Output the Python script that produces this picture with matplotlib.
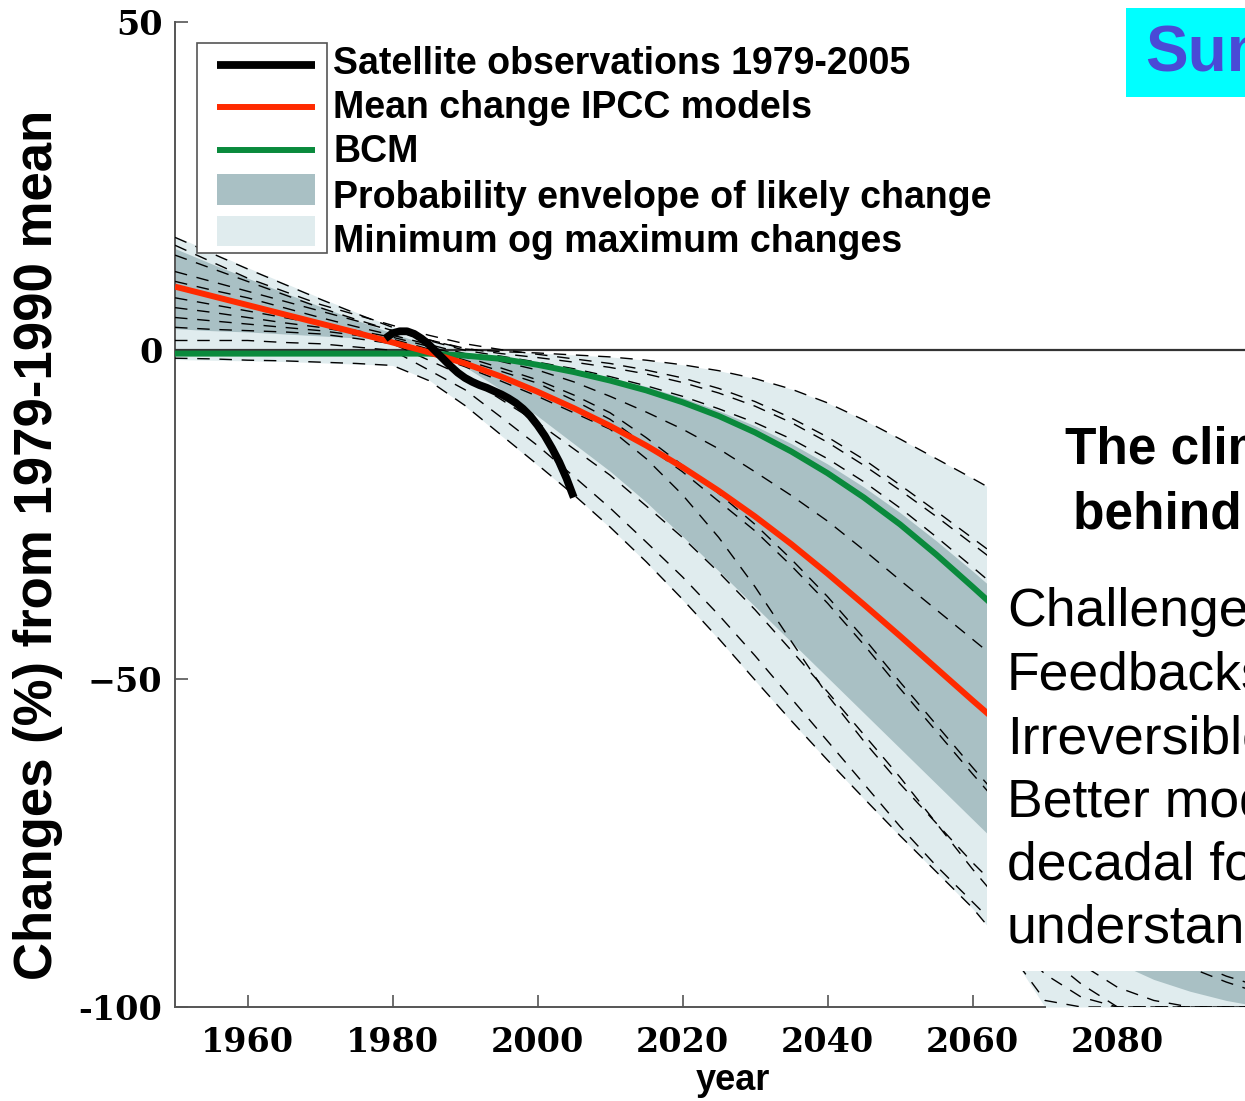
import numpy as np
import matplotlib
matplotlib.use("Agg")
import matplotlib.pyplot as plt
from matplotlib.patches import Rectangle
from matplotlib.lines import Line2D

# ---- data ----
years = list(range(1950, 2101, 5))
mean_ipcc = [9.7, 8.3, 6.9, 5.5, 4.1, 2.7, 1.2, -0.3, -2.0, -4.0, -6.3, -8.8, -11.5, -14.5,
             -17.8, -21.4, -25.3, -29.5, -34.0, -38.7, -43.5, -48.4, -53.3, -58.1, -62.7,
             -67.0, -71.0, -74.7, -78.1, -81.3, -84.3]
bcm = [-0.5, -0.5, -0.5, -0.5, -0.5, -0.5, -0.5, -0.5, -0.8, -1.3, -2.2, -3.3, -4.6, -6.1,
       -7.9, -10.0, -12.5, -15.4, -18.7, -22.4, -26.5, -31.1, -36.0, -41.0, -46.0, -51.0,
       -55.9, -60.6, -65.1, -69.4, -73.5]
minmax_hi = [17.4, 15.0, 12.6, 10.3, 8.0, 5.8, 3.6, 1.6, 0.2, -0.2, -0.4, -0.7, -1.0, -1.5,
             -2.2, -3.1, -4.3, -5.9, -8.0, -10.6, -13.5, -16.5, -19.5, -22.6, -25.8, -29.2,
             -32.8, -36.5, -40.3, -44.2, -48.0]
minmax_lo = [-1.4, -1.5, -1.6, -1.7, -1.9, -2.1, -2.3, -4.5, -8.5, -13.0, -17.5, -22.0, -27.0,
             -32.3, -38.0, -44.0, -50.3, -56.5, -62.5, -68.3, -74.0, -79.5, -85.0, -91.5,
             -100.0, -100.0, -100.0, -100.0, -100.0, -100.0, -100.0]
likely_hi = [15.5, 13.2, 11.0, 8.8, 6.7, 4.6, 2.6, 0.8, -0.4, -1.0, -1.9, -2.9, -4.1, -5.5,
             -7.2, -9.2, -11.5, -14.2, -17.3, -20.8, -24.7, -29.0, -33.6, -38.4, -43.3,
             -48.2, -53.0, -57.6, -62.0, -66.0, -70.0]
likely_lo = [3.3, 3.0, 2.8, 2.5, 2.2, 1.9, 1.5, 0.5, -2.5, -6.0, -10.0, -14.2, -18.4, -23.1,
             -28.3, -33.6, -39.0, -44.4, -49.8, -55.2, -60.6, -66.0, -71.4, -76.8, -82.2,
             -87.8, -93.3, -95.8, -97.6, -99.0, -100.0]

sat_years = list(range(1979, 2006))
satellite = [1.8, 2.6, 2.9, 2.9, 2.5, 1.8, 0.9, -0.2, -1.3, -2.4, -3.4, -4.2, -4.8, -5.3,
             -5.7, -6.2, -6.7, -7.3, -8.0, -8.9, -10.0, -11.4, -13.0, -14.9, -17.0, -19.5,
             -22.4]

# individual model runs (dashed), same 5-year grid as above
model_runs = [
    [17.2, 14.8, 12.4, 10.1, 7.8, 5.6, 3.5, 1.6, 0.2, -0.2, -0.4, -0.7, -1.0, -1.5, -2.2,
     -3.1, -4.3, -5.9, -8.0, -10.6, -13.5, -16.5, -19.5, -22.6, -25.8, -29.2, -32.8, -36.5,
     -40.3, -44.2, -48.0],
    [16.0, 13.5, 11.0, 9.0, 7.0, 5.4, 3.8, 2.3, 1.0, 0.1, -0.6, -1.3, -2.0, -3.0, -4.2,
     -5.8, -7.8, -10.3, -13.2, -16.6, -20.5, -24.5, -28.6, -32.7, -36.8, -41.0, -45.0,
     -49.0, -53.0, -57.0, -61.0],
    [14.5, 12.5, 10.5, 8.5, 6.5, 4.7, 3.0, 1.6, 0.3, -0.5, -1.1, -1.8, -2.6, -3.6, -4.9,
     -6.5, -8.5, -11.0, -14.0, -17.5, -21.3, -25.3, -29.5, -33.7, -38.0, -42.3, -46.5,
     -50.5, -54.5, -58.5, -62.5],
    [12.0, 10.5, 9.0, 7.5, 6.0, 4.5, 3.0, 1.5, 0.0, -0.9, -1.8, -2.8, -4.0, -5.4, -7.0,
     -8.9, -11.0, -13.5, -16.5, -20.0, -24.0, -28.4, -33.0, -37.7, -42.5, -47.3, -52.0,
     -56.5, -61.0, -65.0, -69.0],
    [10.5, 9.2, 8.0, 6.5, 5.0, 3.6, 2.3, 0.9, -0.5, -1.7, -3.0, -4.8, -7.0, -9.4, -12.0,
     -15.0, -18.5, -22.1, -26.0, -30.4, -35.0, -39.5, -44.0, -48.5, -53.0, -57.5, -62.0,
     -66.5, -71.0, -75.0, -79.0],
    [8.0, 7.0, 6.0, 5.0, 4.0, 3.0, 2.0, 0.6, -1.0, -2.7, -4.5, -6.8, -9.5, -13.3, -17.5,
     -21.8, -26.5, -31.8, -37.5, -43.8, -50.5, -57.0, -63.5, -69.8, -76.0, -81.3, -86.0,
     -89.8, -93.0, -95.3, -97.0],
    [6.5, 5.8, 5.0, 4.2, 3.5, 2.6, 1.7, 0.2, -1.5, -3.2, -5.0, -7.6, -10.5, -14.5, -18.5,
     -23.0, -27.5, -32.8, -38.5, -44.8, -51.5, -58.0, -64.5, -70.8, -77.0, -82.3, -87.0,
     -90.8, -94.0, -96.2, -98.0],
    [5.0, 4.5, 4.0, 3.5, 3.0, 2.3, 1.5, -0.5, -2.5, -4.7, -7.0, -9.5, -12.0, -16.5, -22.0,
     -28.5, -36.0, -44.3, -52.5, -59.5, -66.0, -72.0, -78.0, -83.5, -89.0, -93.5, -97.0,
     -99.0, -100.0, -100.0, -100.0],
    [3.5, 3.2, 3.0, 2.8, 2.5, 1.8, 1.0, -1.5, -4.0, -7.5, -11.0, -15.0, -19.0, -23.7, -28.5,
     -33.8, -39.5, -45.7, -52.0, -58.5, -65.0, -72.0, -79.0, -85.5, -92.0, -96.5, -100.0,
     -100.0, -100.0, -100.0, -100.0],
    [1.5, 1.5, 1.5, 1.2, 1.0, 0.5, 0.0, -3.0, -6.0, -10.2, -14.5, -19.2, -24.0, -29.2, -34.5,
     -40.3, -46.5, -53.0, -59.5, -66.0, -72.5, -78.5, -84.0, -89.5, -95.0, -98.5, -100.0,
     -100.0, -100.0, -100.0, -100.0],
    [-1.2, -1.3, -1.5, -1.6, -1.8, -2.0, -2.3, -4.6, -8.4, -12.9, -17.4, -22.0, -26.9, -32.2,
     -37.9, -43.9, -50.2, -56.4, -62.4, -68.2, -73.9, -79.4, -84.9, -91.5, -99.0, -100.0,
     -100.0, -100.0, -100.0, -100.0, -100.0],
]

x_ticks = [1960, 1980, 2000, 2020, 2040, 2060, 2080]
y_ticks = [-100, -50, 0, 50]
y_tick_labels = ['-100', '\u221250', '0', '50']

legend_labels = ["Satellite observations 1979-2005", "Mean change IPCC models", "BCM",
                 "Probability envelope of likely change", "Minimum og maximum changes"]
side_title = ["The climate", "behind it"]
side_lines = ["Challenges", "Feedbacks", "Irreversible?", "Better models for",
              "decadal forecasts", "understanding"]

LIGHT = '#e0ecee'
DARK = '#a9c0c4'
RED = '#ff2a00'
GREEN = '#0a8a3c'

W, H = 1245, 1101


def fxy(px, py):
    # pixel position -> figure fraction
    return px / W, 1 - py / H


fig = plt.figure(figsize=(W / 100, H / 100), dpi=100)
ax = fig.add_axes([175 / W, 1 - 1007 / H, (1262.5 - 175) / W, (1007 - 22) / H])

ax.fill_between(years, minmax_lo, minmax_hi, color=LIGHT, lw=0, zorder=1)
ax.fill_between(years, likely_lo, likely_hi, color=DARK, lw=0, zorder=1.2)
for run in model_runs:
    ax.plot(years, run, color='black', lw=1.0, ls=(0, (9, 7)), zorder=3)
ax.axhline(0, color='#333333', lw=1.6, zorder=2.6)
ax.plot(years, bcm, color=GREEN, lw=4.3, zorder=4, solid_capstyle='butt')
ax.plot(years, mean_ipcc, color=RED, lw=4.3, zorder=4.1, solid_capstyle='butt')
ax.plot(sat_years, satellite, color='black', lw=5.6, zorder=4.2, solid_capstyle='butt')

ax.set_xlim(1950, 2100)
ax.set_ylim(-100, 50)
ax.set_axisbelow(True)
ax.set_xticks(x_ticks)
ax.set_xticklabels([str(t) for t in x_ticks])
ax.set_yticks(y_ticks)
ax.set_yticklabels(y_tick_labels)
ax.tick_params(direction='in', length=9, width=1.2, color='#555555')
ax.tick_params(axis='x', pad=14)
ax.tick_params(axis='y', pad=9)
for lab in ax.get_xticklabels() + ax.get_yticklabels():
    lab.set_fontfamily('DejaVu Serif')
    lab.set_fontweight('bold')
    lab.set_fontsize(24)
for side in ['top', 'right']:
    ax.spines[side].set_visible(False)
for side in ['left', 'bottom']:
    ax.spines[side].set_color('#555555')
    ax.spines[side].set_linewidth(1.4)
# the min/max band covers the axis once it reaches -100
i_hit = next(i for i, v in enumerate(minmax_lo) if v <= -100)
x_end = np.interp(-100, [minmax_lo[i_hit], minmax_lo[i_hit - 1]],
                  [years[i_hit], years[i_hit - 1]])
ax.spines['bottom'].set_bounds(1950, x_end)

fig.text(*fxy(733, 1080), "year", ha='center', va='center', fontsize=26,
         fontweight='bold', family='Liberation Sans')
fig.text(*fxy(38, 545), "Changes (%) from 1979-1990 mean", rotation=90, ha='center',
         va='center', fontsize=38, fontweight='bold', family='Liberation Sans')

# legend: frame only around the keys, labels run past it
fx0, fy0 = fxy(197, 253)
fx1, fy1 = fxy(327, 43)
fig.add_artist(Rectangle((fx0, fy0), fx1 - fx0, fy1 - fy0, transform=fig.transFigure,
                         facecolor='white', edgecolor='#555555', lw=1.2, zorder=5))
key_x = [217 / W, 315 / W]
for py, col, lw in [(65, 'black', 5.6), (107, RED, 4.3), (150, GREEN, 4.3)]:
    fig.add_artist(Line2D(key_x, [1 - py / H] * 2, color=col, lw=lw,
                          transform=fig.transFigure, zorder=6, solid_capstyle='butt'))
for top, bot, col in [(174, 205, DARK), (216, 246, LIGHT)]:
    px0, pyb = fxy(217, bot)
    fig.add_artist(Rectangle((px0, pyb), 98 / W, (bot - top) / H, transform=fig.transFigure,
                             facecolor=col, edgecolor='none', zorder=6))
for py, txt in zip([64, 108, 152, 198, 242], legend_labels):
    fig.text(*fxy(333, py), txt, ha='left', va='center', fontsize=27, fontweight='bold',
             family='Liberation Sans', zorder=7)

# slide overlays
cx, cy = fxy(1126, 97)
fig.add_artist(Rectangle((cx, cy), 200 / W, 89 / H, transform=fig.transFigure,
                         facecolor='#00ffff', edgecolor='none', zorder=8))
fig.text(*fxy(1145, 54), "Summary", ha='left', va='center', fontsize=46, fontweight='bold',
         color='#4a4ad6', family='Liberation Sans', zorder=9)

bx, by = fxy(987, 971)
fig.add_artist(Rectangle((bx, by), 300 / W, 571 / H, transform=fig.transFigure,
                         facecolor='white', edgecolor='none', zorder=8))
fig.text(*fxy(1065, 450), side_title[0], ha='left', va='center', fontsize=37,
         fontweight='bold', family='Liberation Sans', zorder=9)
fig.text(*fxy(1073, 515), side_title[1], ha='left', va='center', fontsize=37,
         fontweight='bold', family='Liberation Sans', zorder=9)
for i, txt in enumerate(side_lines):
    fig.text(*fxy(1007, 612 + i * 63.5), txt, ha='left', va='center', fontsize=38.5,
             family='Liberation Sans', zorder=9)

fig.savefig('out.png', dpi=100)
